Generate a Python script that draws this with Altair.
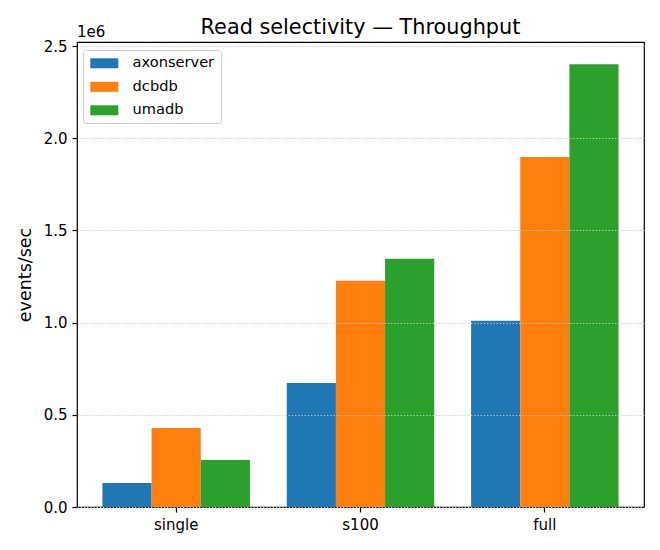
import altair as alt
import pandas as pd

categories = ["single", "s100", "full"]
series = ["axonserver", "dcbdb", "umadb"]
axonserver = [130000, 673000, 1010000]
dcbdb = [429000, 1227000, 1898000]
umadb = [255000, 1346000, 2402000]
colors = ["#1f77b4", "#ff7f0e", "#2ca02c"]
y_ticks = [0, 500000, 1000000, 1500000, 2000000, 2500000]

rows = []
for name, vals in zip(series, [axonserver, dcbdb, umadb]):
    for c, v in zip(categories, vals):
        rows.append({"mode": c, "db": name, "value": v})
df = pd.DataFrame(rows)

FONT = "DejaVu Sans"

bars = alt.Chart(df).mark_bar().encode(
    x=alt.X("mode:N", sort=categories, title=None,
            scale=alt.Scale(paddingInner=0.2, paddingOuter=0.138),
            axis=alt.Axis(labelAngle=0, domain=False, ticks=True, tickSize=5,
                          tickWidth=1.2, tickColor="black", labelFontSize=15,
                          labelFont=FONT, labelColor="black", labelPadding=5,
                          grid=False)),
    xOffset=alt.XOffset("db:N", sort=series,
                        scale=alt.Scale(paddingInner=0, paddingOuter=0)),
    y=alt.Y("value:Q", title="events/sec",
            scale=alt.Scale(domain=[0, 2522000], nice=False, zero=True),
            axis=alt.Axis(values=y_ticks,
                          labelExpr="format(datum.value/1000000, '.1f')",
                          domain=False, tickSize=5, tickWidth=1.2, tickColor="black",
                          labelFontSize=15, labelFont=FONT, labelColor="black",
                          labelPadding=5, titleFontSize=17.5, titleFont=FONT,
                          titleFontWeight="normal", titleColor="black",
                          titlePadding=9, grid=True, gridColor="#cfcfcf",
                          gridDash=[1.2, 2], gridWidth=1, zindex=1)),
    color=alt.Color("db:N", sort=series,
                    scale=alt.Scale(domain=series, range=colors),
                    legend=alt.Legend(
                        title=None, orient="none", legendX=6, legendY=8,
                        fillColor="rgba(255,255,255,0.8)", strokeColor="#cccccc",
                        cornerRadius=3, padding=6,
                        labelFontSize=14.6, labelFont=FONT, labelColor="black",
                        symbolType="M-2.8,-1H2.8V1H-2.8Z", symbolSize=100,
                        symbolStrokeWidth=0, symbolOpacity=1,
                        symbolOffset=8, labelOffset=21, rowPadding=8.5)),
)

exp = alt.Chart(pd.DataFrame({"t": ["1e6"]})).mark_text(
    align="left", baseline="alphabetic", fontSize=15, font=FONT, color="black"
).encode(x=alt.value(0), y=alt.value(-5), text="t:N")

chart = alt.layer(bars, exp).properties(
    width=567, height=465,
    title=alt.TitleParams("Read selectivity — Throughput", fontSize=20.8,
                          font=FONT, fontWeight="normal", color="black",
                          anchor="middle", baseline="alphabetic", offset=-6,
                          dy=24),
    padding={"left": 69, "top": 34, "right": 8, "bottom": 30},
    autosize=alt.AutoSizeParams(type="none"),
).configure_view(stroke="black", strokeWidth=1.2)

chart.save("out.html", embed_options={"renderer": "svg", "actions": False})
